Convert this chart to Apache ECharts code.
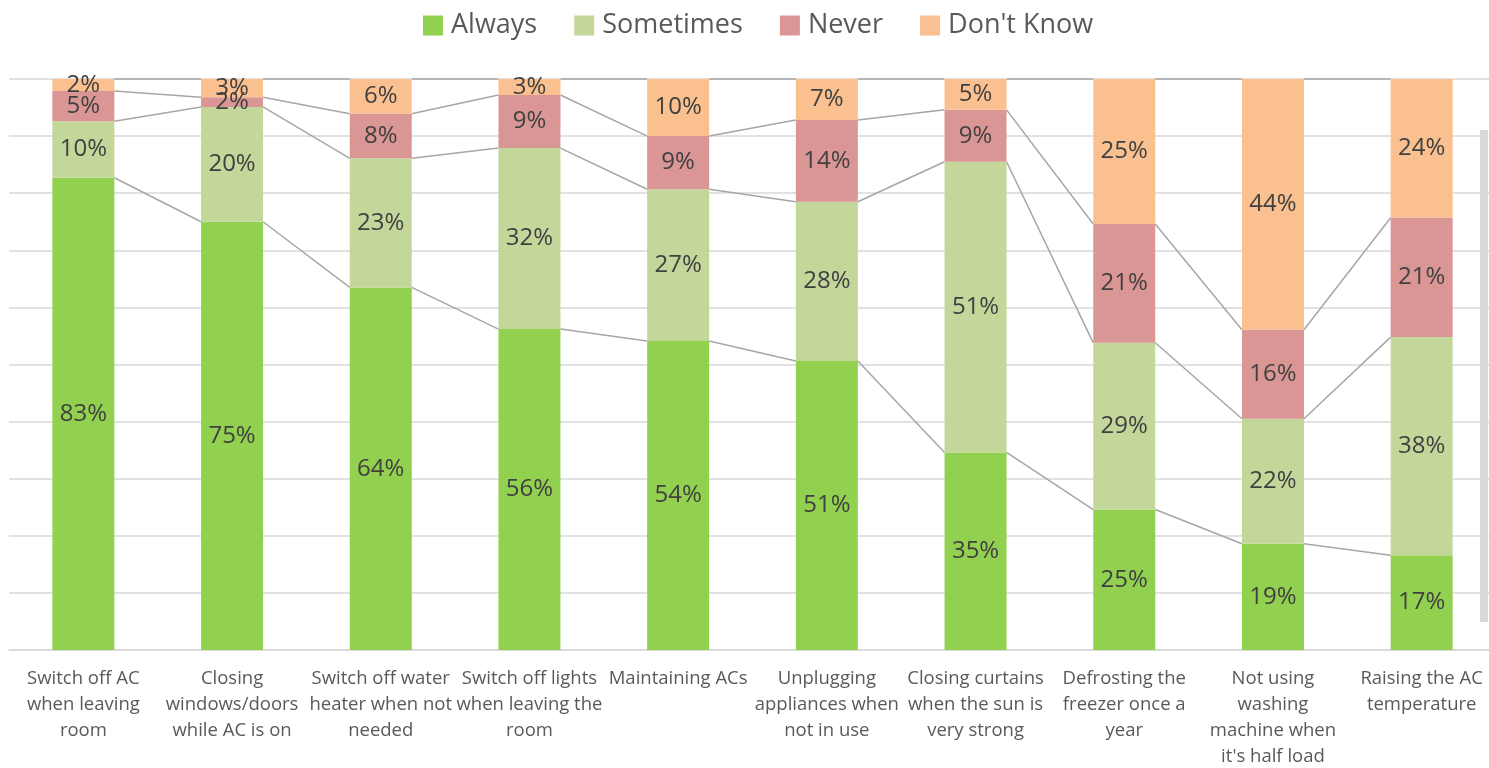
<!DOCTYPE html>
<html>
<head>
<meta charset="utf-8">
<script src="https://cdn.jsdelivr.net/npm/echarts@6/dist/echarts.min.js"></script>
<style>
html,body{margin:0;padding:0;background:#fff;}
#chart{width:1489px;height:768px;}
</style>
</head>
<body>
<div id="chart"></div>
<script>
var categories = [
  "Switch off AC\nwhen leaving\nroom",
  "Closing\nwindows/doors\nwhile AC is on",
  "Switch off water\nheater when not\nneeded",
  "Switch off lights\nwhen leaving the\nroom",
  "Maintaining ACs",
  "Unplugging\nappliances when\nnot in use",
  "Closing curtains\nwhen the sun is\nvery strong",
  "Defrosting the\nfreezer once a\nyear",
  "Not using\nwashing\nmachine when\nit's half load",
  "Raising the AC\ntemperature"
];
var seriesNames = ["Always", "Sometimes", "Never", "Don't Know"];
var always    = [82.7, 75.0, 63.5, 56.2, 54.1, 50.6, 34.6, 24.6, 18.6, 16.6];
var sometimes = [9.9, 20.1, 22.6, 31.7, 26.6, 27.9, 50.9, 29.2, 21.9, 38.2];
var never     = [5.3, 1.7, 7.8, 9.3, 9.3, 14.3, 9.1, 20.8, 15.6, 20.9];
var dontKnow  = [2.1, 3.2, 6.1, 2.8, 10.0, 7.2, 5.4, 25.4, 43.9, 24.3];
var colors = ["#92d050", "#c4d79b", "#da9694", "#fac090"];

var allSeries = [always, sometimes, never, dontKnow];
// cumulative tops for series lines
var cum = categories.map(function(_, i){
  var s = 0, out = [];
  for (var k = 0; k < 4; k++){ s += allSeries[k][i]; out.push(s); }
  return out;
});
var lineData = [];
for (var i = 0; i < categories.length - 1; i++){
  lineData.push([i].concat(cum[i]).concat(cum[i+1]));
}

var BAR_W = 62;
var chart = echarts.init(document.getElementById('chart'));
var labelFont = "'Open Sans', sans-serif";

var series = seriesNames.map(function(name, k){
  return {
    name: name,
    type: 'bar',
    stack: 'total',
    barWidth: BAR_W,
    data: allSeries[k],
    itemStyle: {color: colors[k]},
    label: {
      show: true,
      position: 'inside',
      color: '#404040',
      fontFamily: labelFont,
      fontSize: 24,
      formatter: function(p){ return Math.round(p.value) + '%'; }
    },
    z: 3
  };
});
series.push({
  type: 'custom',
  name: 'seriesLines',
  silent: true,
  z: 2,
  data: lineData,
  encode: {x: 0, y: 1},
  renderItem: function(params, api){
    var i = api.value(0);
    var half = BAR_W / 2;
    var children = [];
    for (var k = 0; k < 4; k++){
      var p0 = api.coord([i, api.value(1 + k)]);
      var p1 = api.coord([i + 1, api.value(5 + k)]);
      children.push({
        type: 'line',
        shape: {x1: p0[0] + half, y1: p0[1], x2: p1[0] - half, y2: p1[1]},
        style: {stroke: '#a6a6a6', lineWidth: 1.5}
      });
    }
    return {type: 'group', children: children};
  }
});

chart.setOption({
  animation: false,
  color: colors,
  legend: {
    data: seriesNames,
    top: 7,
    left: 418,
    itemWidth: 20,
    itemHeight: 20,
    itemGap: 37,
    icon: 'rect',
    textStyle: {color: '#595959', fontFamily: labelFont, fontSize: 27, padding: [0, 0, 0, 3]}
  },
  grid: {left: 9, top: 79, width: 1487, height: 571, outerBoundsMode: 'none', containLabel: false},
  xAxis: {
    type: 'category',
    data: categories,
    axisTick: {show: false},
    axisLine: {lineStyle: {color: '#d9d9d9', width: 1.5}},
    axisLabel: {
      color: '#595959',
      fontFamily: labelFont,
      fontSize: 18.5,
      lineHeight: 26,
      margin: 16,
      interval: 0
    }
  },
  yAxis: {
    type: 'value',
    min: 0,
    max: 100,
    interval: 10,
    axisLabel: {show: false},
    axisLine: {show: false},
    axisTick: {show: false},
    splitLine: {lineStyle: {color: '#d9d9d9', width: 1.5}}
  },
  graphic: [{
    type: 'rect',
    shape: {x: 1480, y: 130, width: 8, height: 492},
    style: {fill: '#d9d9d9'},
    z: 10
  }],
  series: series
});
</script>
</body>
</html>
